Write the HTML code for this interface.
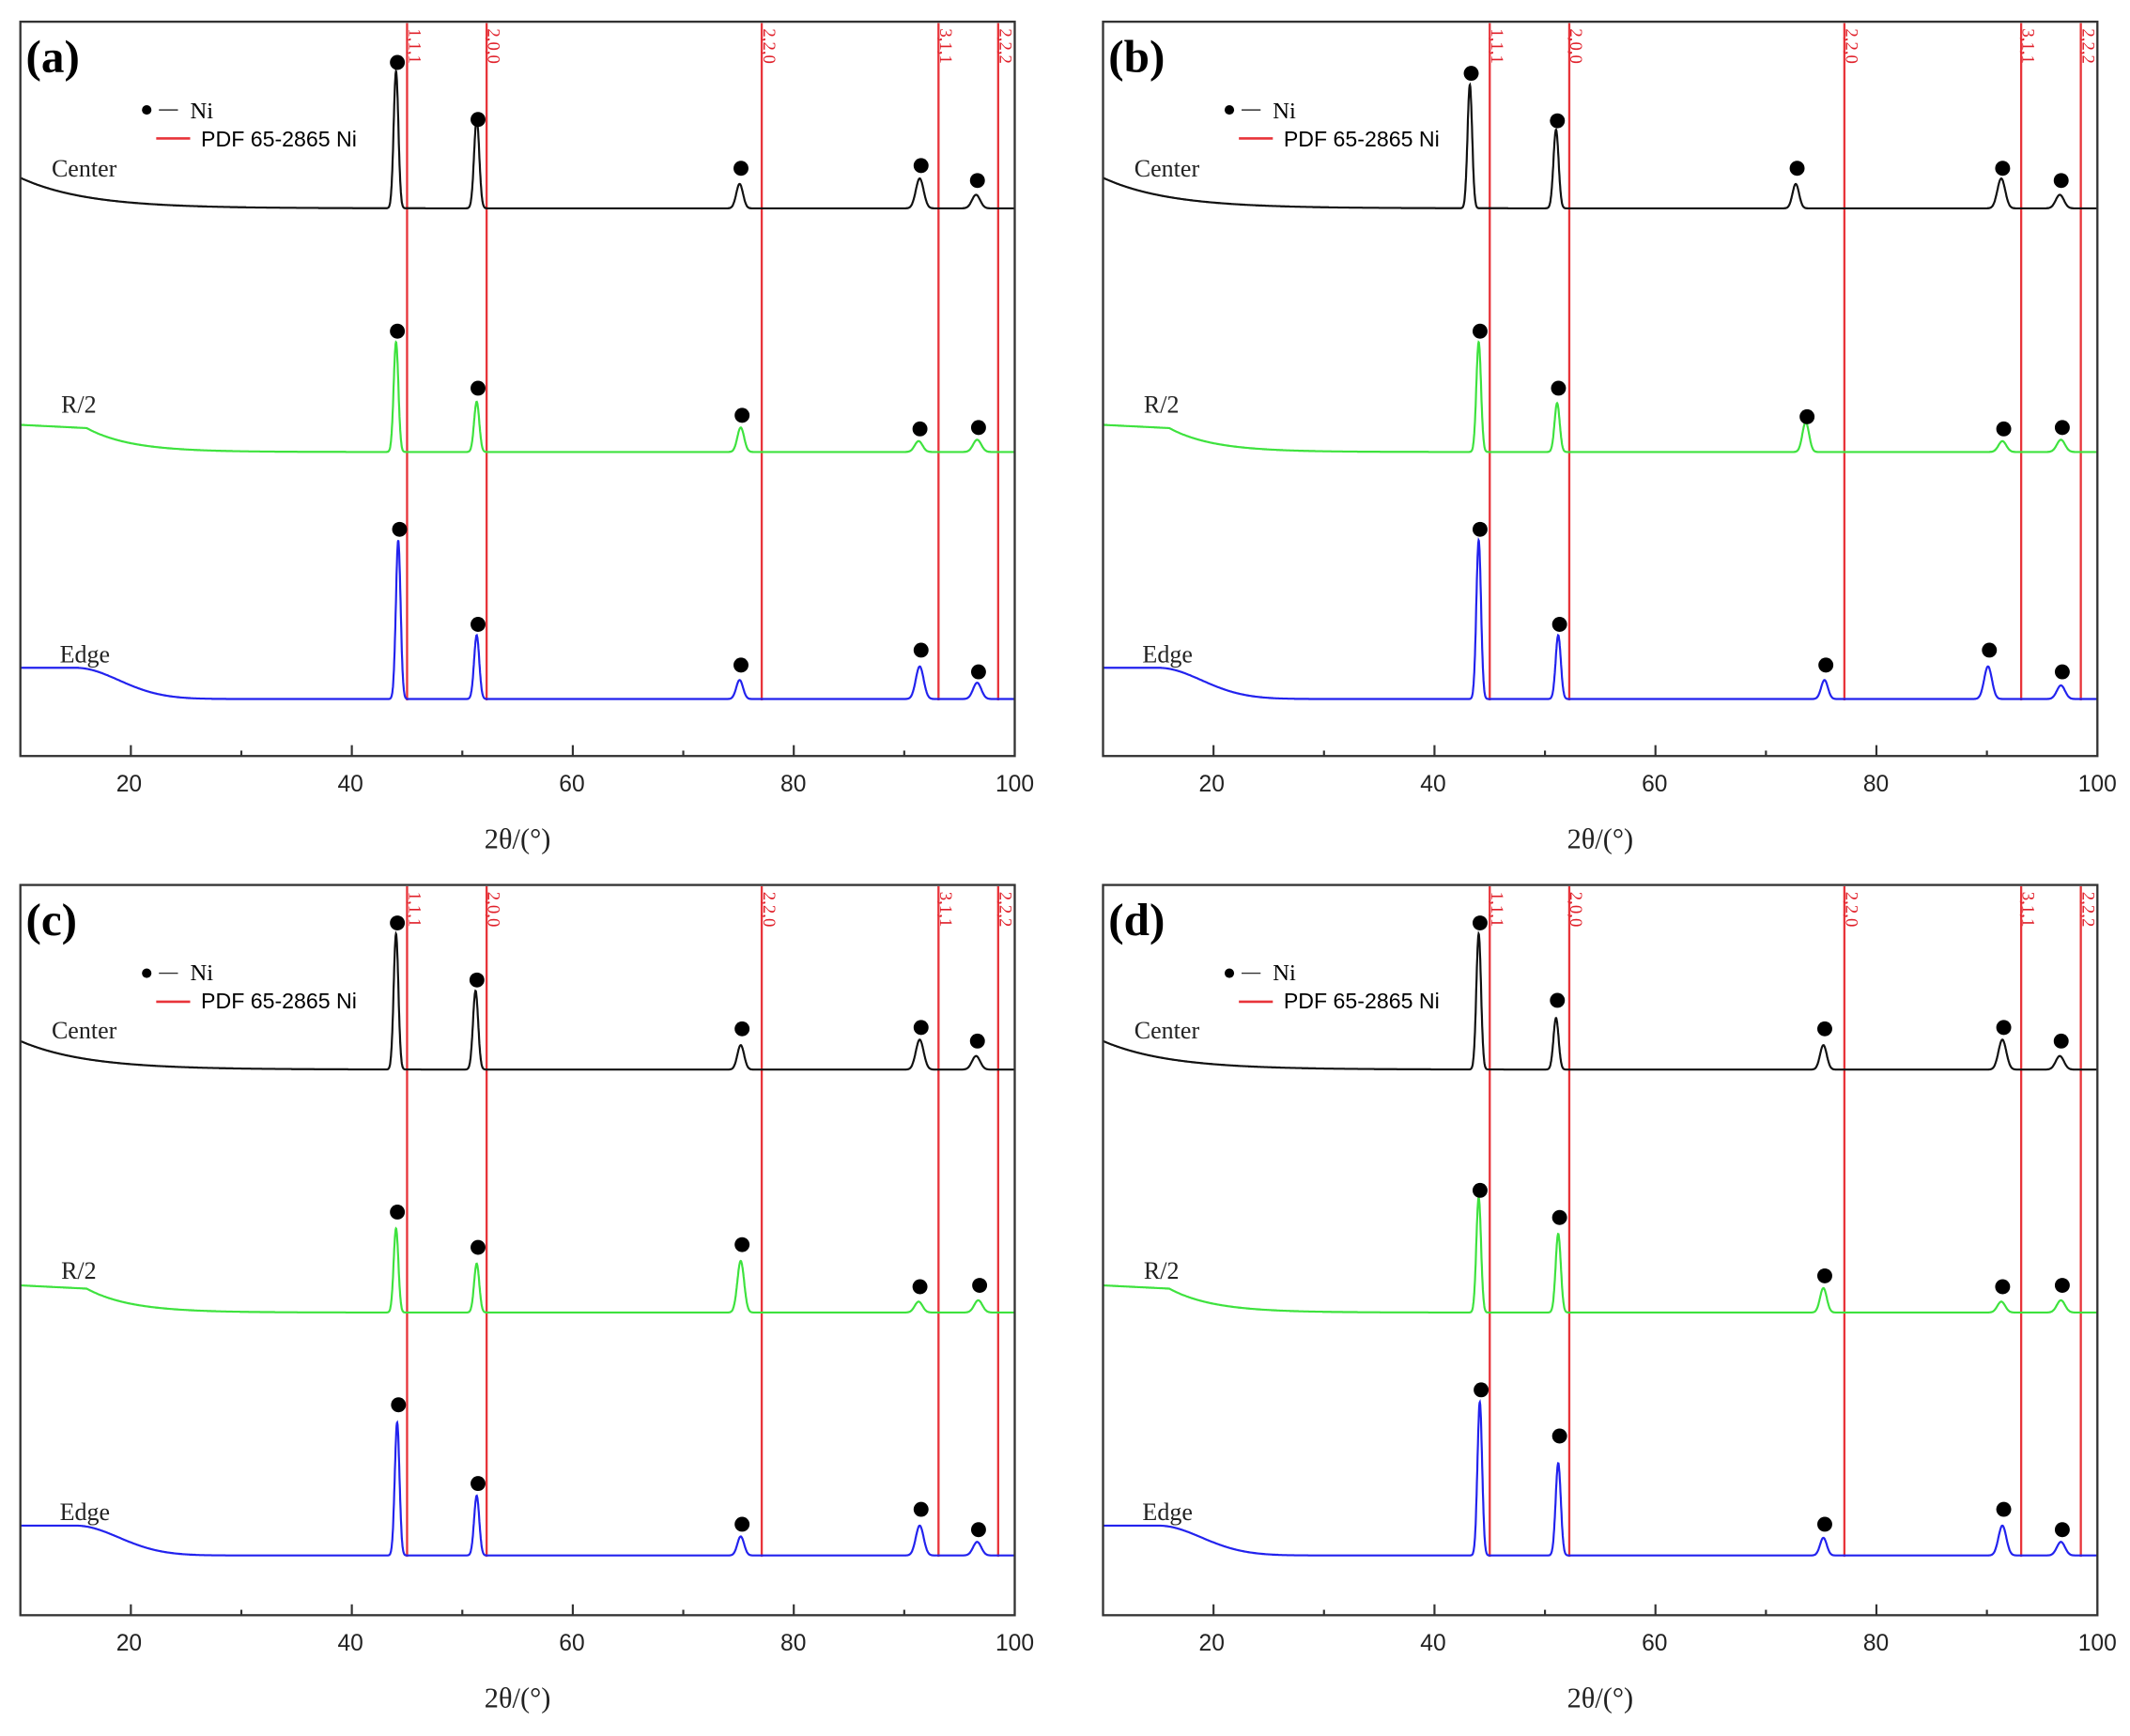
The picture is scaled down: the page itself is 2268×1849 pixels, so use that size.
<!DOCTYPE html>
<html><head><meta charset="utf-8"><style>
html,body{margin:0;padding:0;background:#fff;}
svg{display:block;}
.ser{font-family:"Liberation Serif",serif;}
.san{font-family:"Liberation Sans",sans-serif;}
</style></head><body>
<svg id="s" width="2268" height="1849" viewBox="0 0 1568 1279" preserveAspectRatio="none" xmlns="http://www.w3.org/2000/svg">
<rect width="1568" height="1279" fill="#fff"/>
<g transform="translate(15,16)"><text x="4" y="37" class="ser" font-size="34" font-weight="bold">(a)</text></g>
<g transform="translate(812,16)"><text x="4" y="37" class="ser" font-size="34" font-weight="bold">(b)</text></g>
<g transform="translate(15,652)"><text x="4" y="37" class="ser" font-size="34" font-weight="bold">(c)</text></g>
<g transform="translate(812,652)"><text x="4" y="37" class="ser" font-size="34" font-weight="bold">(d)</text></g>
<g class="ser" font-size="18" fill="#222">
<text x="38" y="130">Center</text><text x="45" y="304">R/2</text><text x="44" y="488">Edge</text>
<text x="835" y="130">Center</text><text x="842" y="304">R/2</text><text x="841" y="488">Edge</text>
<text x="38" y="765">Center</text><text x="45" y="942">R/2</text><text x="44" y="1120">Edge</text>
<text x="835" y="765">Center</text><text x="842" y="942">R/2</text><text x="841" y="1120">Edge</text>
</g>
<g class="ser" font-size="21" fill="#222" text-anchor="middle">
<text x="381" y="625">2θ/(°)</text><text x="1178" y="625">2θ/(°)</text>
<text x="381" y="1258">2θ/(°)</text><text x="1178" y="1258">2θ/(°)</text>
</g>
<g class="san" font-size="17" fill="#222" text-anchor="middle">
<text x="95" y="583">20</text><text x="258" y="583">40</text><text x="421" y="583">60</text><text x="584" y="583">80</text><text x="747" y="583">100</text>
<text x="892" y="583">20</text><text x="1055" y="583">40</text><text x="1218" y="583">60</text><text x="1381" y="583">80</text><text x="1544" y="583">100</text>
<text x="95" y="1216">20</text><text x="258" y="1216">40</text><text x="421" y="1216">60</text><text x="584" y="1216">80</text><text x="747" y="1216">100</text>
<text x="892" y="1216">20</text><text x="1055" y="1216">40</text><text x="1218" y="1216">60</text><text x="1381" y="1216">80</text><text x="1544" y="1216">100</text>
</g>
<g id="legtxt">
<text x="140" y="87" class="ser" font-size="17">Ni</text><text x="148" y="108" class="san" font-size="16">PDF 65-2865 Ni</text>
<text x="937" y="87" class="ser" font-size="17">Ni</text><text x="945" y="108" class="san" font-size="16">PDF 65-2865 Ni</text>
<text x="140" y="722" class="ser" font-size="17">Ni</text><text x="148" y="743" class="san" font-size="16">PDF 65-2865 Ni</text>
<text x="937" y="722" class="ser" font-size="17">Ni</text><text x="945" y="743" class="san" font-size="16">PDF 65-2865 Ni</text>
</g>
<g id="hk" class="ser" font-size="13" fill="#e0202a">
<text transform="translate(301,21) rotate(90)">1,1,1</text>
<text transform="translate(359,21) rotate(90)">2,0,0</text>
<text transform="translate(562,21) rotate(90)">2,2,0</text>
<text transform="translate(692,21) rotate(90)">3,1,1</text>
<text transform="translate(736,21) rotate(90)">2,2,2</text>
<text transform="translate(1098,21) rotate(90)">1,1,1</text>
<text transform="translate(1156,21) rotate(90)">2,0,0</text>
<text transform="translate(1359,21) rotate(90)">2,2,0</text>
<text transform="translate(1489,21) rotate(90)">3,1,1</text>
<text transform="translate(1533,21) rotate(90)">2,2,2</text>
<text transform="translate(301,657) rotate(90)">1,1,1</text>
<text transform="translate(359,657) rotate(90)">2,0,0</text>
<text transform="translate(562,657) rotate(90)">2,2,0</text>
<text transform="translate(692,657) rotate(90)">3,1,1</text>
<text transform="translate(736,657) rotate(90)">2,2,2</text>
<text transform="translate(1098,657) rotate(90)">1,1,1</text>
<text transform="translate(1156,657) rotate(90)">2,0,0</text>
<text transform="translate(1359,657) rotate(90)">2,2,0</text>
<text transform="translate(1489,657) rotate(90)">3,1,1</text>
<text transform="translate(1533,657) rotate(90)">2,2,2</text>
</g>
</svg>
<script>
var NS="http://www.w3.org/2000/svg",s=document.getElementById("s");
function el(t,a){var e=document.createElementNS(NS,t);for(var k in a)e.setAttribute(k,a[k]);s.appendChild(e);return e;}
var W=732,K=W/90;
var P=[
 {ox:15,oy:16,S:[
  [137.5,115,0,[[44,101,46],[51.3,66,88],[75.1,18,124],[91.4,22,122],[96.5,10,133]]],
  [317,297,1,[[44,81,244],[51.3,37,286],[75.2,18,306],[91.3,8,316],[96.6,9,315]]],
  [499,476,2,[[44.2,117,390],[51.3,47,460],[75.1,14,490],[91.4,24,479],[96.6,12,495]]]]},
 {ox:812,oy:16,S:[
  [137.5,115,0,[[43.2,91,54],[51,58,89],[72.7,18,124],[91.3,22,124],[96.6,10,133]]],
  [317,297,1,[[44,81,244],[51.1,36,286],[73.6,22,307],[91.4,8,316],[96.7,9,315]]],
  [499,476,2,[[44,117,390],[51.2,47,460],[75.3,14,490],[90.1,24,479],[96.7,10,495]]]]},
 {ox:15,oy:652,S:[
  [136,115,0,[[44,100,680],[51.2,58,722],[75.2,18,758],[91.4,22,757],[96.5,10,767]]],
  [315,295,1,[[44,62,893],[51.3,36,919],[75.2,38,917],[91.3,8,948],[96.7,9,947]]],
  [494,472,2,[[44.1,98,1035],[51.3,44,1093],[75.2,14,1123],[91.4,22,1112],[96.6,10,1127]]]]},
 {ox:812,oy:652,S:[
  [136,115,0,[[44,100,680],[51,38,737],[75.2,18,758],[91.4,22,757],[96.6,10,767]]],
  [315,295,1,[[44,85,877],[51.2,58,897],[75.2,18,940],[91.3,8,948],[96.7,9,947]]],
  [494,472,2,[[44.1,113,1024],[51.2,68,1058],[75.2,13,1123],[91.4,22,1112],[96.7,10,1127]]]]}
];
var cols=["#111","#3ee23e","#2222ee"];
var red=[45.0,52.2,77.1,93.1,98.5];
P.forEach(function(p){
 var ox=p.ox,oy=p.oy;
 function X(t){return ox+(t-10)*K;}
 red.forEach(function(r){el("line",{x1:X(r),y1:oy+1,x2:X(r),y2:oy+p.S[2][0]+1,stroke:"#e8343a","stroke-width":1.6});});
 p.S.forEach(function(sr,i){
  var b=sr[0],st=sr[1],ty=sr[2],pk=sr[3],d="";
  for(var t=10;t<=100;t+=0.03){
   var f;
   if(ty==0){f=Math.exp(-(t-10)/6);}
   else if(ty==1){f=(t<16?1-(t-10)*0.02:0.88*Math.exp(-(t-16)/4));}
   else{f=(t<15?1:Math.exp(-Math.pow((t-15)/5.5,2)));}
   var y=(st-b)*f;
   pk.forEach(function(q){var w=0.2+0.003*(q[0]-40);var g=Math.exp(-Math.pow((t-q[0])/w,2)/2);y-=q[1]*g;});
   d+=(d?"L":"M")+X(t).toFixed(1)+" "+(oy+b+y).toFixed(1);
  }
  el("path",{d:d,fill:"none",stroke:cols[i],"stroke-width":1.5});
  pk.forEach(function(q){el("circle",{cx:X(q[0])+1,cy:q[2],r:5.5,fill:"#000"});});
 });
 var hh=(p.oy==16?541:538);
 el("rect",{x:ox,y:oy,width:W,height:hh,fill:"none",stroke:"#333","stroke-width":1.6});
 var by=oy+hh;
 for(var t=20;t<=90;t+=10){var maj=(t%20==0);el("line",{x1:X(t),y1:by,x2:X(t),y2:by-(maj?8:4),stroke:"#333","stroke-width":1.5});}
 el("circle",{cx:ox+93,cy:oy+65,r:3.5,fill:"#000"});
 el("line",{x1:ox+102,y1:oy+65,x2:ox+116,y2:oy+65,stroke:"#333","stroke-width":1});
 el("line",{x1:ox+100,y1:oy+86,x2:ox+125,y2:oy+86,stroke:"#e8343a","stroke-width":1.8});
});
["legtxt","hk"].forEach(function(id){s.appendChild(document.getElementById(id));});
</script>
</body></html>
